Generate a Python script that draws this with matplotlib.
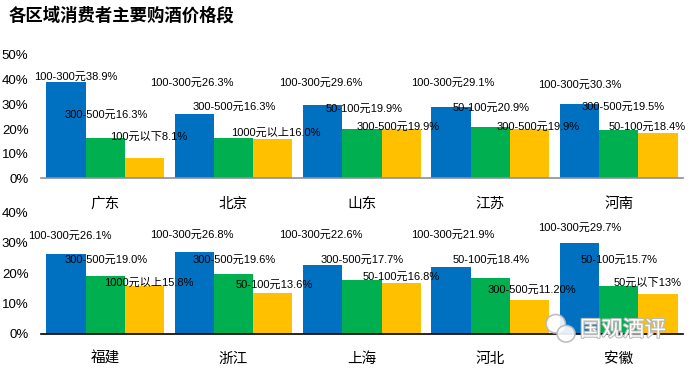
import matplotlib
matplotlib.use("Agg")
import matplotlib.pyplot as plt
import matplotlib.patheffects as pe
from matplotlib.patches import Ellipse
import numpy as np

# 数据
title = "各区域消费者主要购酒价格段"
regions_top = ["广东", "北京", "山东", "江苏", "河南"]
regions_bottom = ["福建", "浙江", "上海", "河北", "安徽"]

# 每个区域前三名价格段 (第一/第二/第三)
top_first = [38.9, 26.3, 29.6, 29.1, 30.3]
top_second = [16.3, 16.3, 19.9, 20.9, 19.5]
top_third = [8.1, 16.0, 19.9, 19.9, 18.4]
top_first_lbl = ["100-300元38.9%", "100-300元26.3%", "100-300元29.6%", "100-300元29.1%", "100-300元30.3%"]
top_second_lbl = ["300-500元16.3%", "300-500元16.3%", "50-100元19.9%", "50-100元20.9%", "300-500元19.5%"]
top_third_lbl = ["100元以下8.1%", "1000元以上16.0%", "300-500元19.9%", "300-500元19.9%", "50-100元18.4%"]

bot_first = [26.1, 26.8, 22.6, 21.9, 29.7]
bot_second = [19.0, 19.6, 17.7, 18.4, 15.7]
bot_third = [15.8, 13.6, 16.8, 11.2, 13.0]
bot_first_lbl = ["100-300元26.1%", "100-300元26.8%", "100-300元22.6%", "100-300元21.9%", "100-300元29.7%"]
bot_second_lbl = ["300-500元19.0%", "300-500元19.6%", "300-500元17.7%", "50-100元18.4%", "50-100元15.7%"]
bot_third_lbl = ["1000元以上15.8%", "50-100元13.6%", "50-100元16.8%", "300-500元11.20%", "50元以下13%"]

# 标签相对柱顶的偏移 (像素)
top_offsets = [
    [(10, 6), (1, 23), (4, 22)],
    [(-2, 31), (1, 31), (3, 6)],
    [(-2, 23), (2, 21), (-3, 3)],
    [(2, 24), (1, 19), (8, 3)],
    [(0, 19), (4, 23), (-11, 6)],
]
bot_offsets = [
    [(4, 19), (1, 16), (4, 3)],
    [(-2, 17), (1, 14), (1, 8)],
    [(-2, 30), (0, 20), (0, 6)],
    [(2, 32), (1, 18), (2, 10)],
    [(0, 16), (0, 26), (-10, 12)],
]

colors = ["#0070C0", "#00B050", "#FFC000"]
label_font = ["Liberation Sans", "Noto Sans CJK SC"]

fig = plt.figure(figsize=(6.92, 3.70), dpi=100)
fig.text(0.012, 0.958, title, fontsize=12.5, fontweight="bold",
         family=["Noto Sans CJK SC"], va="center", ha="left")

ax1 = fig.add_axes([0.0592, 0.5176, 0.9277, 0.3338])
ax2 = fig.add_axes([0.0592, 0.0973, 0.9277, 0.3297])
ax2.patch.set_visible(False)
ax1.set_zorder(2)
ax1.patch.set_visible(False)


def draw(ax, cats, series, labels, offsets, ymax, axis_color):
    x = np.arange(len(cats))
    w = 0.306
    for k, (vals, lbls) in enumerate(zip(series, labels)):
        xs = x + (k - 1) * w
        ax.bar(xs, vals, width=w, color=colors[k], linewidth=0)
        for i in range(len(cats)):
            dx, dy = offsets[i][k]
            ax.annotate(lbls[i], (xs[i], vals[i]), xytext=(dx, dy),
                        textcoords="offset pixels", ha="center", va="center",
                        fontsize=8, family=label_font, color="black")
    ax.set_xlim(-0.5, len(cats) - 0.5)
    ax.set_ylim(0, ymax)
    ax.set_yticks(np.arange(0, ymax + 1, 10))
    ax.set_yticklabels([f"{v}%" for v in range(0, ymax + 1, 10)],
                       family=label_font, fontsize=9.5)
    ax.set_xticks(x)
    ax.set_xticklabels(cats, family=["Noto Sans CJK SC"], fontsize=10.5)
    ax.tick_params(axis="both", length=0)
    ax.tick_params(axis="x", pad=13)
    ax.tick_params(axis="y", pad=9)
    for s in ["top", "right", "left"]:
        ax.spines[s].set_visible(False)
    ax.spines["bottom"].set_color(axis_color)
    ax.spines["bottom"].set_linewidth(1.2)


draw(ax1, regions_top, [top_first, top_second, top_third],
     [top_first_lbl, top_second_lbl, top_third_lbl], top_offsets, 50, "#8a8f9c")
draw(ax2, regions_bottom, [bot_first, bot_second, bot_third],
     [bot_first_lbl, bot_second_lbl, bot_third_lbl], bot_offsets, 40, "black")

# 水印
fig.text(0.838, 0.108, "国观酒评", fontsize=15.5, color="white",
         family=["Noto Sans CJK SC"], va="center", ha="left", zorder=5,
         path_effects=[pe.withStroke(linewidth=1.5, foreground="#b8b8b8")])
fig.patches.append(Ellipse((0.803, 0.125), 0.028, 0.05, transform=fig.transFigure,
                           facecolor="white", edgecolor="#b8b8b8", lw=1.2, alpha=0.9, zorder=5))
fig.patches.append(Ellipse((0.818, 0.098), 0.026, 0.045, transform=fig.transFigure,
                           facecolor="white", edgecolor="#b8b8b8", lw=1.2, alpha=0.9, zorder=5))

fig.savefig("out.png", dpi=100)
